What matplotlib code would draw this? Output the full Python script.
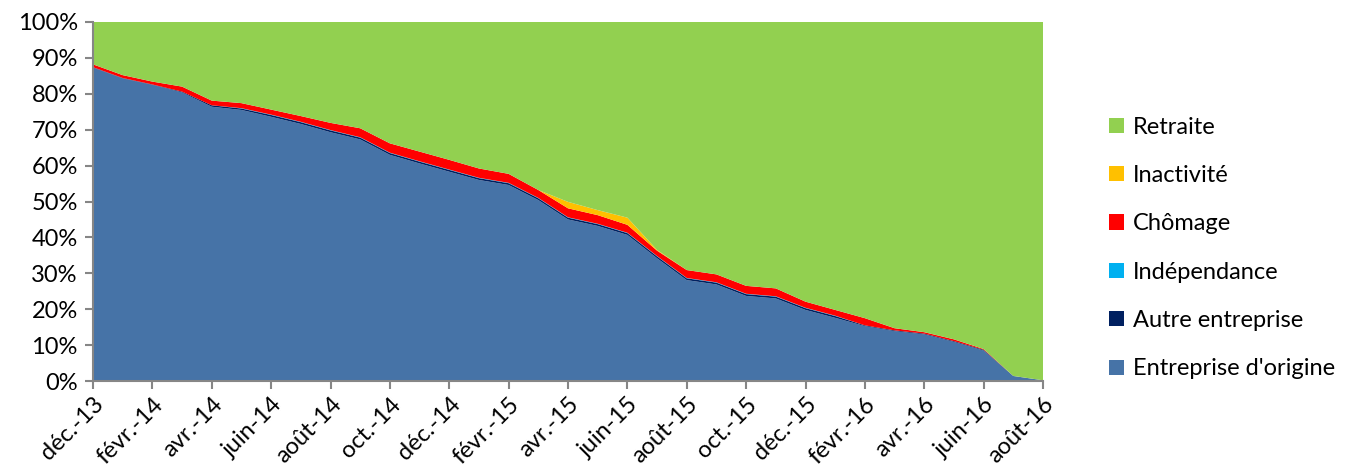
import matplotlib
matplotlib.use("Agg")
import matplotlib.pyplot as plt
from matplotlib.patches import Patch
from matplotlib.ticker import FuncFormatter

plt.rcParams['font.family'] = ['Lato', 'DejaVu Sans']

# month labels (every month, ticks every two)
months = ['déc.-13', 'janv.-14', 'févr.-14', 'mars-14', 'avr.-14', 'mai-14', 'juin-14',
          'juil.-14', 'août-14', 'sept.-14', 'oct.-14', 'nov.-14', 'déc.-14', 'janv.-15',
          'févr.-15', 'mars-15', 'avr.-15', 'mai-15', 'juin-15', 'juil.-15', 'août-15',
          'sept.-15', 'oct.-15', 'nov.-15', 'déc.-15', 'janv.-16', 'févr.-16', 'mars-16',
          'avr.-16', 'mai-16', 'juin-16', 'juil.-16', 'août-16']

origine = [87.3, 84.3, 82.5, 80.4, 76.4, 75.5, 73.6, 71.6, 69.3, 67.3, 63.0, 60.6, 58.3,
           56.0, 54.6, 50.4, 45.0, 43.2, 40.7, 34.2, 28.1, 26.9, 23.7, 23.0, 19.8, 17.6,
           15.3, 13.9, 13.0, 10.9, 8.5, 1.4, 0.2]
autre = [0.1, 0.1, 0.1, 0.2, 0.4, 0.4, 0.5, 0.5, 0.5, 0.5, 0.5, 0.5, 0.5, 0.5, 0.5, 0.5,
         0.5, 0.5, 0.5, 0.5, 0.5, 0.5, 0.5, 0.5, 0.5, 0.5, 0.2, 0.2, 0.2, 0.2, 0.2, 0.0, 0.0]
independance = [0.0, 0.0, 0.0, 0.0, 0.0, 0.1, 0.1, 0.1, 0.1, 0.1, 0.1, 0.1, 0.1, 0.1, 0.1,
                0.1, 0.1, 0.1, 0.1, 0.1, 0.1, 0.1, 0.1, 0.1, 0.1, 0.1, 0.0, 0.0, 0.0, 0.0,
                0.0, 0.0, 0.0]
chomage = [0.8, 0.8, 0.8, 1.4, 1.3, 1.4, 1.4, 1.6, 2.0, 2.5, 2.6, 2.7, 2.7, 2.6, 2.5, 2.2,
           2.5, 2.4, 2.2, 1.5, 2.2, 2.2, 2.2, 2.2, 1.7, 1.6, 2.0, 0.6, 0.4, 0.5, 0.2, 0.0, 0.0]
inactivite = [0, 0, 0, 0, 0, 0, 0, 0, 0, 0, 0, 0, 0, 0, 0, 0.0, 1.8, 1.4, 2.0, 0.2, 0, 0,
              0, 0, 0, 0, 0, 0, 0, 0, 0, 0, 0]
retraite = [11.8, 14.8, 16.6, 18.0, 21.9, 22.6, 24.4, 26.2, 28.1, 29.6, 33.8, 36.1, 38.4,
            40.8, 42.3, 46.8, 50.1, 52.4, 54.5, 63.5, 69.1, 70.3, 73.5, 74.2, 77.9, 80.2,
            82.5, 85.3, 86.4, 88.4, 91.1, 98.6, 99.8]

labels = ['Entreprise d\'origine', 'Autre entreprise', 'Indépendance', 'Chômage',
          'Inactivité', 'Retraite']
colors = ['#4673A7', '#002060', '#00B0F0', '#FF0000', '#FFC000', '#92D050']

fig = plt.figure(figsize=(13.57, 4.75), dpi=100)
ax = fig.add_axes([93 / 1357, 1 - 381 / 475, 950 / 1357, 359 / 475])

x = list(range(len(months)))
ax.stackplot(x, origine, autre, independance, chomage, inactivite, retraite,
             colors=colors, linewidth=0)

ax.set_xlim(0, len(months) - 1)
ax.set_ylim(0, 100)
ax.set_yticks(range(0, 101, 10))
ax.yaxis.set_major_formatter(FuncFormatter(lambda v, p: '%d%%' % v))
ax.set_xticks(x[::2])
ax.set_xticklabels(months[::2], rotation=45, ha='right', rotation_mode='anchor')

for s in ['top', 'right']:
    ax.spines[s].set_visible(False)
for s in ['left', 'bottom']:
    ax.spines[s].set_color('#868686')
    ax.spines[s].set_linewidth(1.5)
ax.tick_params(axis='both', colors='#868686', labelcolor='black', labelsize=17,
               length=6, width=1.5)
ax.tick_params(axis='x', pad=3)
ax.tick_params(axis='y', pad=5)

handles = [Patch(facecolor=c, edgecolor='none') for c in colors][::-1]
fig.legend(handles, labels[::-1], loc='center left',
           bbox_to_anchor=(1088 / 1357, 1 - 248 / 475), frameon=False,
           fontsize=17, labelspacing=1.16, handlelength=0.62, handleheight=0.62,
           handletextpad=0.4)

fig.savefig('out.png', dpi=100)
